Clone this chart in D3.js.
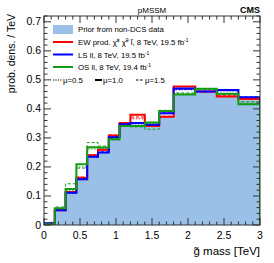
<!DOCTYPE html>
<html>
<head>
<meta charset="utf-8">
<script src="https://cdn.jsdelivr.net/npm/d3@7"></script>
<style>
  body { margin: 0; background: #fff; }
  svg { font-family: "Liberation Sans", Arial, sans-serif; }
</style>
</head>
<body>
<div id="viz"></div>
<script>
// gluino mass bins (TeV), variable width
const binEdges = [0, 0.15, 0.3, 0.45, 0.6, 0.75, 0.9, 1.05, 1.2, 1.4, 1.6, 1.8, 2.1, 2.4, 2.7, 3.0];

const prior = [0.004, 0.05, 0.11, 0.155, 0.231, 0.248, 0.293, 0.34, 0.34, 0.338, 0.372, 0.45, 0.456, 0.445, 0.43];

// mu = 1.0 (solid)
const ewProd = [0.005, 0.051, 0.114, 0.163, 0.24, 0.259, 0.308, 0.351, 0.38, 0.341, 0.373, 0.477, 0.46, 0.443, 0.434];
const lsLL = [0.006, 0.051, 0.111, 0.158, 0.235, 0.25, 0.302, 0.347, 0.351, 0.345, 0.385, 0.47, 0.46, 0.465, 0.44];
const osLL = [0.003, 0.058, 0.124, 0.209, 0.268, 0.267, 0.295, 0.341, 0.341, 0.353, 0.393, 0.45, 0.469, 0.452, 0.416];

// mu = 0.5 (dotted)
const ewProd05 = [0.005, 0.05, 0.112, 0.16, 0.238, 0.256, 0.305, 0.349, 0.366, 0.34, 0.372, 0.468, 0.458, 0.443, 0.436];
const lsLL05 = [0.005, 0.05, 0.11, 0.156, 0.233, 0.249, 0.3, 0.346, 0.348, 0.343, 0.383, 0.466, 0.458, 0.462, 0.438];
const osLL05 = [0.004, 0.056, 0.12, 0.2, 0.262, 0.264, 0.293, 0.34, 0.342, 0.35, 0.39, 0.452, 0.466, 0.45, 0.42];

// mu = 1.5 (dashed)
const ewProd15 = [0.005, 0.052, 0.115, 0.165, 0.242, 0.26, 0.31, 0.352, 0.372, 0.342, 0.375, 0.47, 0.46, 0.445, 0.437];
const lsLL15 = [0.005, 0.052, 0.113, 0.16, 0.237, 0.252, 0.303, 0.348, 0.353, 0.346, 0.386, 0.468, 0.46, 0.463, 0.441];
const osLL15 = [0.004, 0.062, 0.142, 0.196, 0.284, 0.272, 0.298, 0.345, 0.338, 0.33, 0.395, 0.455, 0.466, 0.45, 0.425];

const xTicks = [0, 0.5, 1, 1.5, 2, 2.5, 3];
const yTicks = [0, 0.1, 0.2, 0.3, 0.4, 0.5, 0.6, 0.7];

const W = 274, H = 263;
const m = { left: 44, right: 14, top: 16, bottom: 38 };

const svg = d3.select("#viz").append("svg")
  .attr("width", W).attr("height", H);

const x = d3.scaleLinear().domain([0, 3]).range([m.left, W - m.right]);
const y = d3.scaleLinear().domain([0, 0.72]).range([H - m.bottom, m.top]);

const colRed = "#ff0000", colBlue = "#0000ff", colGreen = "#159a15", colFill = "#9bc0e7";

// step points from a bin array
function steps(vals) {
  const pts = [[binEdges[0], 0]];
  vals.forEach((v, i) => pts.push([binEdges[i], v]));
  pts.push([binEdges[binEdges.length - 1], vals[vals.length - 1]]);
  pts.push([binEdges[binEdges.length - 1], 0]);
  return pts;
}

const line = d3.line().x(d => x(d[0])).y(d => y(d[1])).curve(d3.curveStepAfter);
const area = d3.area().x(d => x(d[0])).y0(y(0)).y1(d => y(d[1])).curve(d3.curveStepAfter);

const plot = svg.append("g");
plot.append("clipPath").attr("id", "clip").append("rect")
  .attr("x", x(0)).attr("y", y(0.72)).attr("width", x(3) - x(0)).attr("height", y(0) - y(0.72));

const hg = plot.append("g").attr("clip-path", "url(#clip)");
hg.append("path").attr("d", area(steps(prior))).attr("fill", colFill);

const variants = [
  { d: ewProd05, c: colRed, w: 1, dash: "1.5,1.5" },
  { d: lsLL05, c: colBlue, w: 1, dash: "1.5,1.5" },
  { d: osLL05, c: colGreen, w: 1, dash: "1.5,1.5" },
  { d: ewProd15, c: colRed, w: 1, dash: "3,2" },
  { d: lsLL15, c: colBlue, w: 1, dash: "3,2" },
  { d: osLL15, c: colGreen, w: 1, dash: "3,2" },
  { d: ewProd, c: colRed, w: 2, dash: null },
  { d: lsLL, c: colBlue, w: 2, dash: null },
  { d: osLL, c: colGreen, w: 2, dash: null },
];
variants.forEach(s => {
  hg.append("path").attr("d", line(steps(s.d)))
    .attr("fill", "none").attr("stroke", s.c).attr("stroke-width", s.w)
    .attr("stroke-dasharray", s.dash);
});

// frame + ticks (ROOT style, inward)
const axCol = "#333";
const fr = svg.append("g").attr("stroke", axCol).attr("stroke-width", 1);
fr.append("rect").attr("x", x(0)).attr("y", y(0.72)).attr("width", x(3) - x(0)).attr("height", y(0) - y(0.72))
  .attr("fill", "none");

d3.range(0, 0.7201, 0.02).forEach((v, i) => {
  const len = i % 5 === 0 ? 7 : 3.5;
  fr.append("line").attr("x1", x(0)).attr("x2", x(0) + len).attr("y1", y(v)).attr("y2", y(v));
  fr.append("line").attr("x1", x(3)).attr("x2", x(3) - len).attr("y1", y(v)).attr("y2", y(v));
});
d3.range(0, 3.001, 0.1).forEach((v, i) => {
  const len = i % 5 === 0 ? 7 : 3.5;
  fr.append("line").attr("x1", x(v)).attr("x2", x(v)).attr("y1", y(0)).attr("y2", y(0) - len);
  fr.append("line").attr("x1", x(v)).attr("x2", x(v)).attr("y1", y(0.72)).attr("y2", y(0.72) + len);
});

// tick labels
const lab = svg.append("g").attr("font-size", 10.5).attr("fill", "#000");
yTicks.forEach(v => {
  lab.append("text").attr("x", x(0) - 3).attr("y", y(v) + 3.5).attr("text-anchor", "end").text(v === 0 ? "0" : v.toFixed(1));
});
xTicks.forEach(v => {
  lab.append("text").attr("x", x(v)).attr("y", y(0) + 14).attr("text-anchor", "middle").text(String(v));
});

// axis titles
svg.append("text").attr("x", x(3)).attr("y", 255).attr("text-anchor", "end").attr("font-size", 11.5)
  .text("g\u0303 mass [TeV]");
svg.append("text").attr("transform", `translate(15,${m.top - 2}) rotate(-90)`).attr("text-anchor", "end")
  .attr("font-size", 10.5).text("prob. dens. / TeV");

svg.append("text").attr("x", 152).attr("y", 13).attr("text-anchor", "middle").attr("font-size", 8).text("pMSSM");
svg.append("text").attr("x", x(3)).attr("y", 13).attr("text-anchor", "end").attr("font-size", 9)
  .attr("font-weight", "bold").text("CMS");

// legend
const lg = svg.append("g").attr("font-size", 7.8);
const lx0 = 53, lx1 = 73, tx = 78;
lg.append("rect").attr("x", lx0).attr("y", 25).attr("width", lx1 - lx0).attr("height", 9).attr("fill", colFill);
lg.append("text").attr("x", tx).attr("y", 32).text("Prior from non-DCS data");

const rows = [
  { c: colRed, y: 42 },
  { c: colBlue, y: 54.5 },
  { c: colGreen, y: 67 },
];
rows.forEach(r => lg.append("line").attr("x1", lx0).attr("x2", lx1).attr("y1", r.y).attr("y2", r.y)
  .attr("stroke", r.c).attr("stroke-width", 2));

const t1 = lg.append("text").attr("x", tx).attr("y", 45);
t1.append("tspan").text("EW prod. \u03C7\u0303");
t1.append("tspan").attr("dy", -3).attr("font-size", 5).text("\u00B1");
t1.append("tspan").attr("dy", 3).text(" \u03C7\u0303");
t1.append("tspan").attr("dy", -3).attr("font-size", 5).text("0");
t1.append("tspan").attr("dy", 3).text(" l\u0303, 8 TeV, 19.5 fb");
t1.append("tspan").attr("dy", -3).attr("font-size", 5).text("-1");

const t2 = lg.append("text").attr("x", tx).attr("y", 57.5);
t2.append("tspan").text("LS ll, 8 TeV, 19.5 fb");
t2.append("tspan").attr("dy", -3).attr("font-size", 5).text("-1");

const t3 = lg.append("text").attr("x", tx).attr("y", 70);
t3.append("tspan").text("OS ll, 8 TeV, 19.4 fb");
t3.append("tspan").attr("dy", -3).attr("font-size", 5).text("-1");

const muRow = [
  { x0: 53, x1: 62, tx: 63, dash: "1.2,1.2", w: 1, t: "\u03BC=0.5" },
  { x0: 95, x1: 102, tx: 103, dash: null, w: 2, t: "\u03BC=1.0" },
  { x0: 136, x1: 143, tx: 145, dash: "2.5,1.5", w: 1, t: "\u03BC=1.5" },
];
muRow.forEach(r => {
  lg.append("line").attr("x1", r.x0).attr("x2", r.x1).attr("y1", 80).attr("y2", 80)
    .attr("stroke", "#000").attr("stroke-width", r.w).attr("stroke-dasharray", r.dash);
  lg.append("text").attr("x", r.tx).attr("y", 83).text(r.t);
});
</script>
</body>
</html>
